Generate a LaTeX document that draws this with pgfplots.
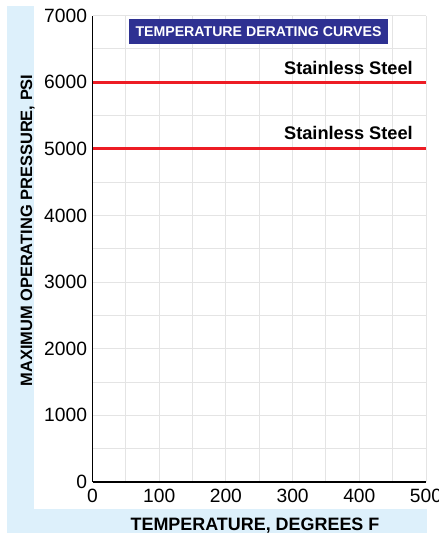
\documentclass[border=0pt]{standalone}
\usepackage{pgfplots}
\pgfplotsset{compat=1.18}
\usepackage{fontspec}
\setmainfont{Liberation Sans}
\definecolor{bgblue}{HTML}{DDF0FB}
\definecolor{titleblue}{HTML}{2E3192}
\definecolor{linered}{HTML}{ED1C24}
\definecolor{gridgray}{HTML}{E4E4E4}
\begin{document}
\begin{tikzpicture}
\useasboundingbox (0bp,0bp) rectangle (439bp,533bp);
\fill[bgblue] (7bp,0bp) rectangle (34bp,527bp);
\fill[bgblue] (7bp,0bp) rectangle (427bp,24bp);
\fill[white] (34bp,24bp) rectangle (439bp,533bp);
\begin{axis}[
  at={(92.5bp,51bp)}, anchor=south west,
  scale only axis, width=333.5bp, height=466.5bp,
  xmin=0, xmax=500, ymin=0, ymax=7000,
  xtick={0,100,...,500}, ytick={0,1000,...,7000},
  minor x tick num=1, minor y tick num=1,
  grid=both,
  major grid style={draw=gridgray, line width=1bp},
  minor grid style={draw=gridgray, line width=1bp},
  axis x line*=bottom, axis y line*=left,
  axis line style={line width=1.4bp, black, -},
  major tick length=0pt, minor tick length=0pt,
  tick label style={font=\fontsize{19.3}{22}\selectfont},
  yticklabel style={xshift=-2bp},
  xticklabel style={yshift=-3.5bp},
  /pgf/number format/assume math mode=true,
  /pgf/number format/1000 sep={},
  clip=false,
]
\addplot[linered, line width=3bp] coordinates {(0,6000) (500,6000)};
\addplot[linered, line width=3bp] coordinates {(0,5000) (500,5000)};
\node[anchor=base east, font=\bfseries\fontsize{18.3}{22}\selectfont, yshift=8bp, inner sep=0pt] at (axis cs:480.5,6000) {Stainless Steel};
\node[anchor=base east, font=\bfseries\fontsize{18.3}{22}\selectfont, yshift=9bp, inner sep=0pt] at (axis cs:480.5,5000) {Stainless Steel};
\node[fill=titleblue, text=white, font=\bfseries\fontsize{14.2}{16}\selectfont, minimum width=259bp, minimum height=25bp, inner sep=0pt] at (axis cs:248.9,6760) {TEMPERATURE DERATING CURVES};
\end{axis}
\node[rotate=90, anchor=base, font=\bfseries\fontsize{16.5}{19}\selectfont, inner sep=0pt] at (32bp,302.5bp) {MAXIMUM OPERATING PRESSURE, PSI};
\node[anchor=base, font=\bfseries\fontsize{18}{20}\selectfont, inner sep=0pt] at (255bp,3bp) {TEMPERATURE, DEGREES F};
\end{tikzpicture}
\end{document}
